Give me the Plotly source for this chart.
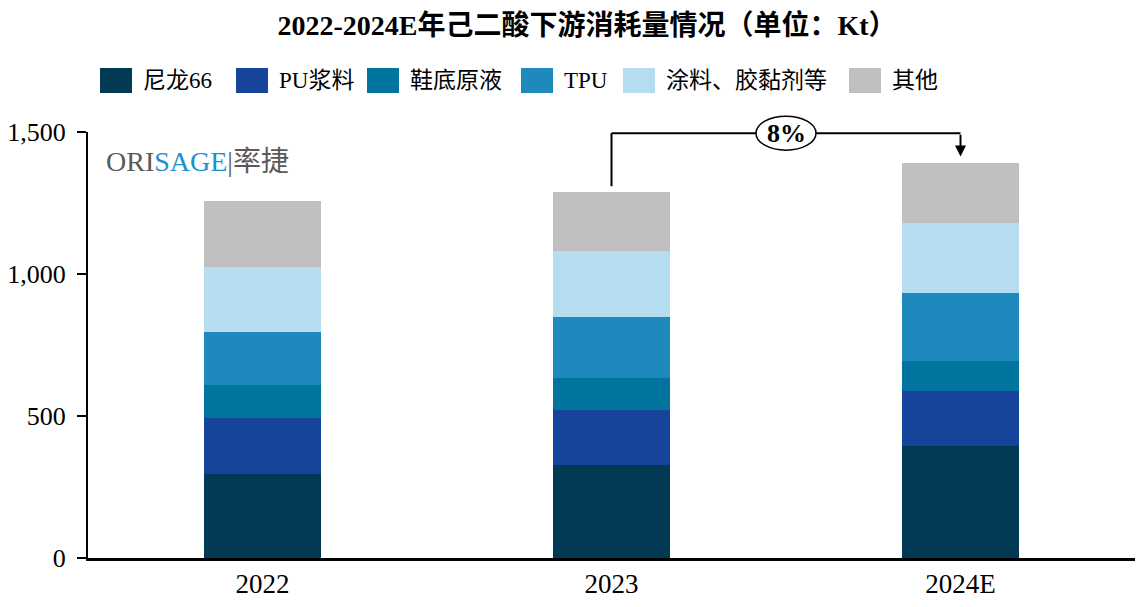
import plotly.graph_objects as go

# ---- data ----
years = ["2022", "2023", "2024E"]
series_names = ["尼龙66", "PU浆料", "鞋底原液", "TPU", "涂料、胶黏剂等", "其他"]
nylon66 = [296, 328, 395]
pu_slurry = [197, 193, 194]
sole_liquid = [116, 113, 105]
tpu = [188, 215, 239]
coating = [227, 232, 246]
others = [232, 207, 211]
series_values = [nylon66, pu_slurry, sole_liquid, tpu, coating, others]
colors = ["#023A55", "#15449A", "#00739E", "#1E89BD", "#B6DCEF", "#BFBFBF"]
y_ticks = [0, 500, 1000, 1500]

SERIF = "Liberation Serif, Times New Roman, Noto Sans CJK SC"

# page has an 8px body margin: figure sized to fit inside it
OFF = 8
W, H = 1143 - 2 * OFF, 607 - 2 * OFF
ML, MR, MT, MB = 88 - OFF, 0, 132 - OFF, H - (558 - OFF)
PW, PH = W - ML - MR, H - MT - MB

fig = go.Figure()
for name, vals, col in zip(series_names, series_values, colors):
    fig.add_trace(go.Bar(x=years, y=vals, name=name, marker=dict(color=col, line=dict(width=0)),
                         showlegend=False))

totals = [sum(v[i] for v in series_values) for i in range(len(years))]
growth = round((totals[2] / totals[1] - 1) * 100)


def px_to_paper_x(px):
    return (px - OFF - ML) / PW


def px_to_paper_y(py):
    return (H - MB - (py - OFF)) / PH


# ---- custom legend (wide swatches as in the reference) ----
legend_sw_left = [100, 236, 367, 521, 623, 849]
sw_w, sw_top, sw_bot = 32, 68, 93
shapes = []
annotations = []
for name, col, lx in zip(series_names, colors, legend_sw_left):
    shapes.append(dict(type="rect", xref="paper", yref="paper",
                       x0=px_to_paper_x(lx), x1=px_to_paper_x(lx + sw_w),
                       y0=px_to_paper_y(sw_bot), y1=px_to_paper_y(sw_top),
                       fillcolor=col, line=dict(width=0)))
    annotations.append(dict(xref="paper", yref="paper", x=px_to_paper_x(lx + sw_w + 9),
                            y=px_to_paper_y((sw_top + sw_bot) / 2), xanchor="left", yanchor="middle",
                            text=name, showarrow=False, font=dict(family=SERIF, size=23, color="black")))

# ---- growth bracket ----
y_bracket = 1496
y_start = totals[1] + 21
y_tip = totals[2] + 24
shapes.append(dict(type="line", xref="x", yref="y", x0=1, x1=1, y0=y_start, y1=y_bracket,
                   line=dict(color="black", width=2)))
shapes.append(dict(type="line", xref="x", yref="y", x0=1, x1=2, y0=y_bracket, y1=y_bracket,
                   line=dict(color="black", width=2)))
shapes.append(dict(type="circle", xref="x", yref="paper", xsizemode="pixel", ysizemode="pixel",
                   xanchor=1.5, yanchor=y_bracket / 1500, x0=-30, x1=30, y0=-17, y1=17,
                   fillcolor="white", line=dict(color="black", width=1.5), layer="above"))
annotations.append(dict(x=2, y=y_tip, ax=2, ay=y_bracket, xref="x", yref="y", axref="x", ayref="y",
                        text="", showarrow=True, arrowhead=2, arrowsize=1.1, arrowwidth=2,
                        arrowcolor="black", standoff=0))
annotations.append(dict(x=1.5, y=y_bracket, xref="x", yref="y", text=f"<b>{growth}%</b>",
                        showarrow=False, font=dict(family=SERIF, size=26, color="black"),
                        xanchor="center", yanchor="middle"))

# ---- logo text ----
annotations.append(dict(xref="paper", yref="paper", x=px_to_paper_x(104), y=px_to_paper_y(161),
                        xanchor="left", yanchor="middle", showarrow=False,
                        text="ORI<span style='color:#1E8FD0'>SAGE</span>|率捷",
                        font=dict(family=SERIF, size=28, color="#5A5A5A")))

fig.update_layout(
    width=W, height=H,
    barmode="stack", bargap=0.665,
    plot_bgcolor="white", paper_bgcolor="white",
    margin=dict(l=ML, r=MR, t=MT, b=MB, pad=0),
    title=dict(text="<b>2022-2024E年己二酸下游消耗量情况（单位：Kt）</b>",
               x=(587 - OFF) / W, xanchor="center", y=1 - (25 - OFF) / H, yanchor="middle",
               font=dict(family=SERIF, size=28, color="black")),
    xaxis=dict(type="category", showline=True, linecolor="black", linewidth=2.5,
               ticks="", showgrid=False, tickfont=dict(family=SERIF, size=27, color="black")),
    yaxis=dict(range=[0, 1500], tickvals=y_ticks, tickformat=",", showline=True,
               linecolor="black", linewidth=2, ticks="outside", ticklen=9, tickwidth=2,
               tickcolor="black", showgrid=False, zeroline=False, ticklabelstandoff=6,
               tickfont=dict(family=SERIF, size=26, color="black")),
    shapes=shapes, annotations=annotations,
)

fig.write_html("out.html")
